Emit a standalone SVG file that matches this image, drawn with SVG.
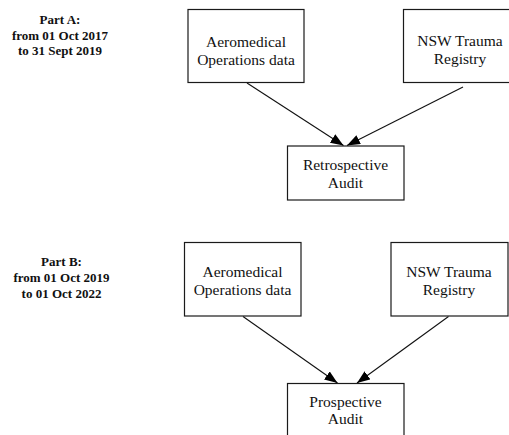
<svg xmlns="http://www.w3.org/2000/svg" width="509" height="435" viewBox="0 0 509 435">
<style>
.box{fill:#fff;stroke:#1a1a1a;stroke-width:1.2}
.t{font-family:"Liberation Serif","Times New Roman",serif;font-size:15.5px;fill:#111;text-anchor:middle}
.lbl{font-family:"Liberation Serif","Times New Roman",serif;font-size:13px;font-weight:bold;fill:#111;text-anchor:middle}
.edge{stroke:#111;stroke-width:1.1;fill:none;marker-end:url(#ah)}
</style>
<defs>
<marker id="ah" markerUnits="userSpaceOnUse" markerWidth="14" markerHeight="11" refX="13" refY="5" orient="auto">
<path d="M0,0 L13,5 L0,10 z" fill="#000"/>
</marker>
</defs>
<rect width="509" height="435" fill="#fff"/>
<g id="partA-label">
<text class="lbl" x="60" y="24">Part A:</text>
<text class="lbl" x="60" y="39.5">from 01 Oct 2017</text>
<text class="lbl" x="60" y="55">to 31 Sept 2019</text>
</g>
<g id="partB-label">
<text class="lbl" x="61.5" y="266">Part B:</text>
<text class="lbl" x="61.5" y="282">from 01 Oct 2019</text>
<text class="lbl" x="61.5" y="297.5">to 01 Oct 2022</text>
</g>
<g id="connectors">
<line class="edge" x1="247" y1="83" x2="343.5" y2="145.5"/>
<line class="edge" x1="463" y1="87" x2="347" y2="145.5"/>
<line class="edge" x1="243" y1="316.5" x2="337.5" y2="383"/>
<line class="edge" x1="448.5" y1="316.5" x2="357" y2="383"/>
</g>
<g id="aero1">
<rect class="box" x="188" y="9.5" width="116" height="73"/>
<text class="t" x="246" y="46.5">Aeromedical</text>
<text class="t" x="246" y="65">Operations data</text>
</g>
<g id="nsw1">
<rect class="box" x="403.5" y="9.5" width="116" height="73"/>
<text class="t" x="460" y="45.5">NSW Trauma</text>
<text class="t" x="460" y="63.5">Registry</text>
</g>
<g id="retro">
<rect class="box" x="287.5" y="146" width="116.5" height="54"/>
<text class="t" x="345.5" y="170">Retrospective</text>
<text class="t" x="345.5" y="188">Audit</text>
</g>
<g id="aero2">
<rect class="box" x="184.5" y="242.5" width="116.5" height="73.5"/>
<text class="t" x="242.5" y="276.5">Aeromedical</text>
<text class="t" x="242.5" y="294.5">Operations data</text>
</g>
<g id="nsw2">
<rect class="box" x="391" y="242.5" width="117" height="73.5"/>
<text class="t" x="449" y="276.5">NSW Trauma</text>
<text class="t" x="449" y="294.5">Registry</text>
</g>
<g id="prosp">
<rect class="box" x="287.5" y="383.5" width="116.5" height="60"/>
<text class="t" x="345.5" y="406.5">Prospective</text>
<text class="t" x="345.5" y="424">Audit</text>
</g>
</svg>
